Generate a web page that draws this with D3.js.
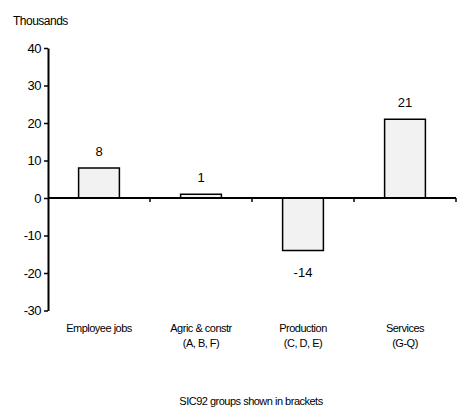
<!DOCTYPE html>
<html>
<head>
<meta charset="utf-8">
<script src="https://cdn.jsdelivr.net/npm/d3@7"></script>
<style>
  body { margin: 0; background: #fff; }
  svg text { font-family: "Liberation Sans", Arial, sans-serif; fill: #000; }
</style>
</head>
<body>
<div id="chart"></div>
<script>
// categories and values (thousands)
var categories = ["Employee jobs", "Agric & constr", "Production", "Services"];
var subLabels = ["", "(A, B, F)", "(C, D, E)", "(G-Q)"];
var values = [8, 1, -14, 21];
var yTicks = [-30, -20, -10, 0, 10, 20, 30, 40];

var width = 464, height = 410;
// plot edges (don't use "top" - clashes with window.top)
var plotLeft = 48, plotRight = 456, plotTop = 48, plotBottom = 310.5;

var svg = d3.select("#chart")
  .append("svg")
  .attr("width", width)
  .attr("height", height);

var x = d3.scaleBand()
  .domain(categories)
  .range([plotLeft, plotRight])
  .paddingInner(0.6)
  .paddingOuter(0.3);

var xb = d3.scaleBand().domain(categories).range([plotLeft, plotRight]);

var y = d3.scaleLinear()
  .domain([-30, 40])
  .range([plotBottom, plotTop]);

// y axis - plain hyphen for negatives like the original
var yAxis = svg.append("g")
  .attr("transform", "translate(" + plotLeft + ",0)")
  .call(d3.axisLeft(y).tickValues(yTicks).tickFormat(function(d) { return String(d); })
    .tickSize(4).tickPadding(3).tickSizeOuter(0));
yAxis.select(".domain").attr("stroke", "#000").attr("stroke-width", 2);
yAxis.selectAll(".tick line").attr("stroke", "#000").attr("stroke-width", 1.5);
yAxis.selectAll(".tick text")
  .style("font-size", "13px")
  .style("letter-spacing", "-0.5px")
  .attr("fill", "#000");

// bars
svg.selectAll(".bar")
  .data(values)
  .enter().append("rect")
  .attr("class", "bar")
  .attr("x", function(d, i) { return x(categories[i]); })
  .attr("width", x.bandwidth())
  .attr("y", function(d) { return y(Math.max(0, d)); })
  .attr("height", function(d) { return Math.abs(y(d) - y(0)); })
  .style("fill", "#f2f2f2")
  .style("stroke", "#000")
  .style("stroke-width", 1.5);

// zero line with ticks at band edges
svg.append("line")
  .attr("x1", plotLeft).attr("x2", plotRight)
  .attr("y1", y(0)).attr("y2", y(0))
  .style("stroke", "#000").style("stroke-width", 2);

svg.selectAll(".xtick")
  .data(categories)
  .enter().append("line")
  .attr("class", "xtick")
  .attr("x1", function(d) { return xb(d) + xb.bandwidth(); })
  .attr("x2", function(d) { return xb(d) + xb.bandwidth(); })
  .attr("y1", y(0)).attr("y2", y(0) + 4)
  .style("stroke", "#000").style("stroke-width", 1.5);

// value labels
svg.selectAll(".val")
  .data(values)
  .enter().append("text")
  .attr("class", "val")
  .attr("x", function(d, i) { return x(categories[i]) + x.bandwidth() / 2; })
  .attr("y", function(d) { return d >= 0 ? y(d) - 12 : y(d) + 26; })
  .attr("text-anchor", "middle")
  .style("font-size", "13px")
  .text(function(d) { return d; });

// category labels
svg.selectAll(".cat")
  .data(categories)
  .enter().append("text")
  .attr("class", "cat")
  .attr("x", function(d) { return xb(d) + xb.bandwidth() / 2; })
  .attr("y", 332)
  .attr("text-anchor", "middle")
  .style("font-size", "11px")
  .style("letter-spacing", "-0.5px")
  .text(function(d) { return d; });

svg.selectAll(".sub")
  .data(subLabels)
  .enter().append("text")
  .attr("class", "sub")
  .attr("x", function(d, i) { return xb(categories[i]) + xb.bandwidth() / 2; })
  .attr("y", 347)
  .attr("text-anchor", "middle")
  .style("font-size", "11px")
  .style("letter-spacing", "-0.5px")
  .text(function(d) { return d; });

// axis title and footnote
svg.append("text")
  .attr("x", 13).attr("y", 25)
  .style("font-size", "12px")
  .style("letter-spacing", "-0.5px")
  .text("Thousands");

svg.append("text")
  .attr("x", 251).attr("y", 405)
  .attr("text-anchor", "middle")
  .style("font-size", "11px")
  .style("letter-spacing", "-0.5px")
  .text("SIC92 groups shown in brackets");
</script>
</body>
</html>
